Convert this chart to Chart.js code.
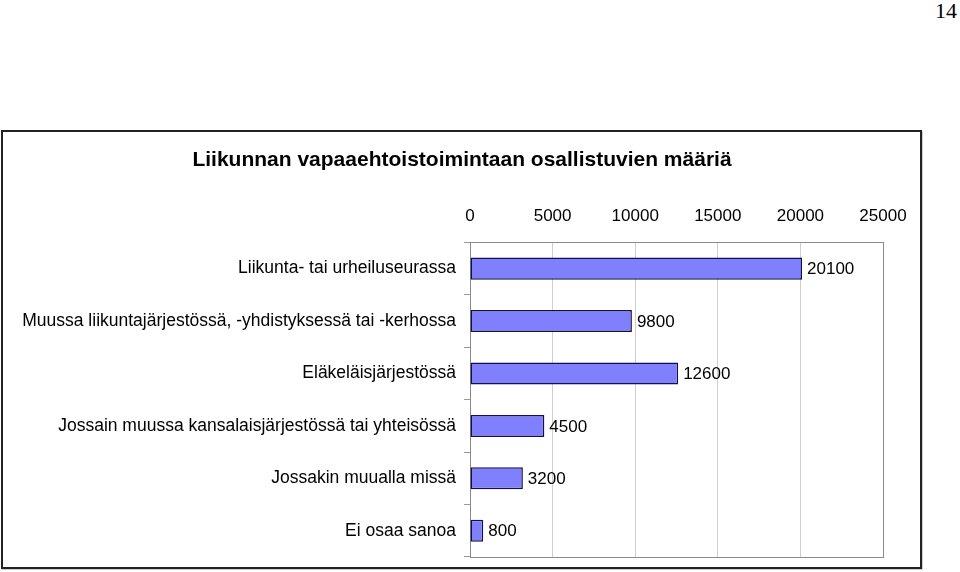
<!DOCTYPE html>
<html>
<head>
<meta charset="utf-8">
<script src="https://cdn.jsdelivr.net/npm/chart.js@4.4.1/dist/chart.umd.min.js"></script>
<style>
  html, body { margin: 0; padding: 0; background: #fff; }
  body { width: 960px; height: 572px; position: relative; overflow: hidden; }
  #sivu { position: absolute; right: 3px; top: -2px; font: 22px "Liberation Serif", "Times New Roman", serif; color: #000; }
  #laatikko { position: absolute; left: 1px; top: 130px; width: 917px; height: 435px; border: 2px solid #222; box-shadow: 1px 1px 0 #ccc; }
  #kaavio { position: absolute; left: 0; top: 0; width: 917px; height: 435px; }
</style>
</head>
<body>
<div id="sivu">14</div>
<div id="laatikko"><canvas id="kaavio" width="917" height="435"></canvas></div>
<script>
// Kaavion tiedot
const otsikko = "Liikunnan vapaaehtoistoimintaan osallistuvien määriä";
const kategoriat = [
  "Liikunta- tai urheiluseurassa",
  "Muussa liikuntajärjestössä, -yhdistyksessä tai -kerhossa",
  "Eläkeläisjärjestössä",
  "Jossain muussa kansalaisjärjestössä tai yhteisössä",
  "Jossakin muualla missä",
  "Ei osaa sanoa"
];
const maarat = [20100, 9800, 12600, 4500, 3200, 800];
const akseliMax = 25000;
const akseliVali = 5000;

const fontti = "'Liberation Sans', Arial, Helvetica, sans-serif";

// Otsikko keskelle laatikkoa (ei riipu akselien reunuksista)
const otsikkoTeksti = {
  id: 'otsikkoTeksti',
  afterDraw(chart) {
    const ctx = chart.ctx;
    ctx.save();
    ctx.font = "bold 21px " + fontti;
    ctx.fillStyle = "#000";
    ctx.textAlign = "center";
    ctx.textBaseline = "middle";
    ctx.fillText(otsikko, 459, 28);
    ctx.restore();
  }
};

// Arvot pylväiden perään
const arvoTekstit = {
  id: 'arvoTekstit',
  afterDatasetsDraw(chart) {
    const ctx = chart.ctx;
    const meta = chart.getDatasetMeta(0);
    ctx.save();
    ctx.font = "17px " + fontti;
    ctx.fillStyle = "#000";
    ctx.textAlign = "left";
    ctx.textBaseline = "middle";
    meta.data.forEach((bar, i) => {
      ctx.fillText(String(maarat[i]), bar.x + 5, bar.y + 1);
    });
    ctx.restore();
  }
};

// Harmaa kehys piirtoalueen ympärille
const alueenKehys = {
  id: 'alueenKehys',
  beforeDatasetsDraw(chart) {
    const a = chart.chartArea;
    const ctx = chart.ctx;
    ctx.save();
    ctx.strokeStyle = "#8a8a8a";
    ctx.lineWidth = 1;
    ctx.strokeRect(Math.round(a.left) + 0.5, Math.round(a.top) + 0.5,
      Math.round(a.right - a.left), Math.round(a.bottom - a.top));
    ctx.restore();
  }
};

function piirra() {
  new Chart(document.getElementById('kaavio'), {
    type: 'bar',
    data: {
      labels: kategoriat,
      datasets: [{
        data: maarat,
        backgroundColor: '#8080ff',
        borderColor: '#10104a',
        borderWidth: 1.5,
        borderSkipped: false,
        categoryPercentage: 1,
        barPercentage: 0.42
      }]
    },
    options: {
      indexAxis: 'y',
      responsive: false,
      animation: false,
      devicePixelRatio: 1,
      layout: { padding: { left: 17, right: 37, top: 58, bottom: 10 } },
      plugins: {
        legend: { display: false },
        tooltip: { enabled: false },
        title: { display: false }
      },
      scales: {
        x: {
          position: 'top',
          min: 0,
          max: akseliMax,
          ticks: {
            stepSize: akseliVali,
            color: '#000',
            font: { family: fontti, size: 17 },
            padding: 16,
            callback: (v) => String(v)
          },
          grid: { color: '#cfcfcf', tickLength: 0 },
          border: { color: '#8a8a8a' },
          afterFit(scale) { scale.paddingLeft = 0; scale.paddingRight = 0; }
        },
        y: {
          ticks: {
            color: '#000',
            font: { family: fontti, size: 17.5 },
            padding: 8
          },
          grid: { drawOnChartArea: false, color: '#9a9a9a', tickLength: 6, offset: true },
          border: { color: '#8a8a8a' },
          afterFit(scale) {
            scale.width = 450;
            scale.paddingTop = 0;
            scale.paddingBottom = 0;
          }
        }
      }
    },
    plugins: [alueenKehys, arvoTekstit, otsikkoTeksti]
  });
}

document.addEventListener("DOMContentLoaded", piirra);
</script>
</body>
</html>
